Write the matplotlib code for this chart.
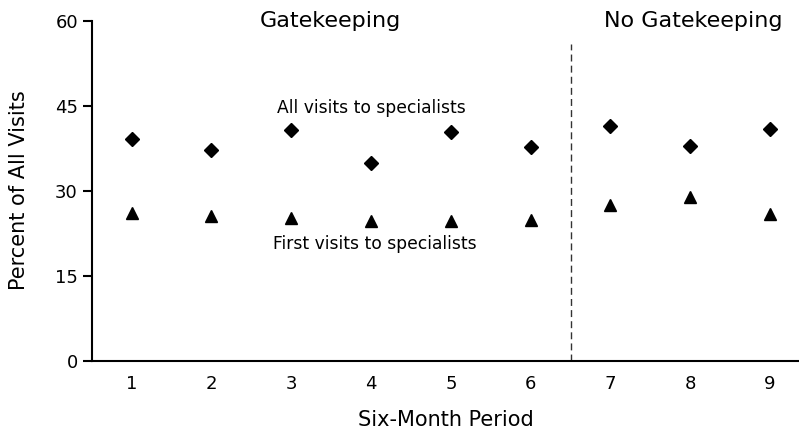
import matplotlib
matplotlib.use("Agg")
import matplotlib.pyplot as plt

periods = [1, 2, 3, 4, 5, 6, 7, 8, 9]
all_visits = [39.1, 37.3, 40.8, 34.9, 40.5, 37.8, 41.5, 38.0, 41.0]
first_visits = [26.1, 25.6, 25.2, 24.7, 24.75, 24.9, 27.5, 28.9, 26.0]
yticks = [0, 15, 30, 45, 60]
split_at = 6.5

plt.rcParams['font.family'] = ['DejaVu Sans']

fig = plt.figure(figsize=(7.99, 4.29), dpi=100)
ax = fig.add_axes([0.1151, 0.1585, 0.8849, 0.7925])

ax.plot(periods, all_visits, linestyle='none', marker='D', markersize=7, color='black')
ax.plot(periods, first_visits, linestyle='none', marker='^', markersize=8.5, color='black')

ax.plot([split_at, split_at], [0, 55.9], linestyle=(0, (5, 3)), color='#333333', linewidth=1.0)

ax.set_xlim(0.503, 9.363)
ax.set_ylim(0, 60)
ax.set_xticks(periods)
ax.set_yticks(yticks)
ax.tick_params(axis='x', length=0, pad=10, labelsize=13)
ax.tick_params(axis='y', length=6.5, width=1.5, pad=3.6, labelsize=13)

for s in ['top', 'right']:
    ax.spines[s].set_visible(False)
for s in ['left', 'bottom']:
    ax.spines[s].set_linewidth(1.5)

ax.set_xlabel('Six-Month Period', fontsize=15, labelpad=12)
fig.text(19 / 799, 1 - 190 / 429, 'Percent of All Visits', rotation=90,
         ha='center', va='center', fontsize=15)

ax.text(3.49, 58.9, 'Gatekeeping', ha='center', va='baseline', fontsize=16)
ax.text(8.04, 58.9, 'No Gatekeeping', ha='center', va='baseline', fontsize=16)
ax.text(4.0, 43.7, 'All visits to specialists', ha='center', va='baseline', fontsize=12.3)
ax.text(4.05, 19.8, 'First visits to specialists', ha='center', va='baseline', fontsize=12.3)

fig.savefig('out.png', dpi=100)
